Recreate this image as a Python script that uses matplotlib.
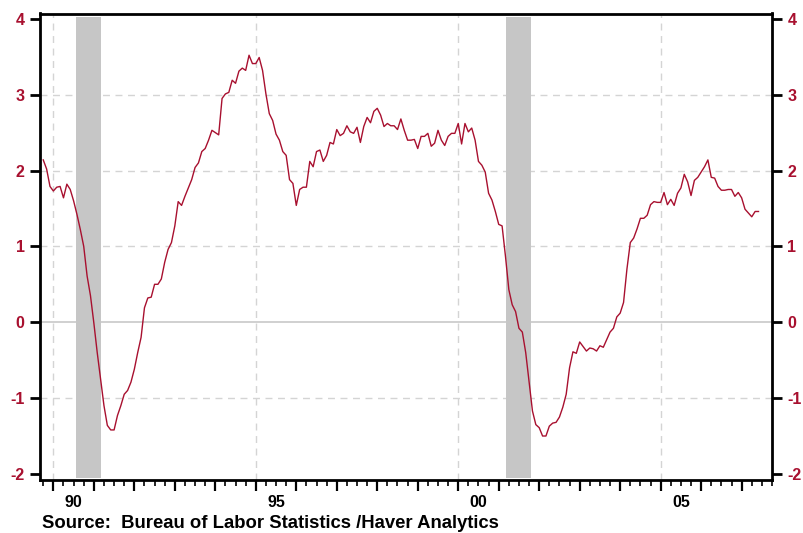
import numpy as np
import matplotlib.pyplot as plt
import matplotlib.transforms as mtransforms

# monthly values, Oct 1989 .. Jun 2007
start_year = 1989
start_month = 10
values = [
    2.14, 2.02, 1.79,
    1.73, 1.78, 1.79, 1.64, 1.82, 1.75, 1.60, 1.42, 1.22, 1.00, 0.61, 0.35,
    -0.01, -0.40, -0.75, -1.10, -1.36, -1.42, -1.42, -1.23, -1.10, -0.95, -0.90, -0.79,
    -0.62, -0.40, -0.20, 0.19, 0.32, 0.33, 0.50, 0.50, 0.57, 0.79, 0.96, 1.05,
    1.27, 1.59, 1.54, 1.66, 1.77, 1.88, 2.04, 2.10, 2.25, 2.29, 2.40, 2.53,
    2.50, 2.47, 2.95, 3.01, 3.03, 3.19, 3.15, 3.31, 3.35, 3.32, 3.52, 3.41,
    3.41, 3.49, 3.32, 3.01, 2.75, 2.66, 2.48, 2.40, 2.25, 2.20, 1.88, 1.83,
    1.54, 1.75, 1.78, 1.78, 2.12, 2.05, 2.25, 2.27, 2.12, 2.20, 2.37, 2.35,
    2.54, 2.46, 2.49, 2.59, 2.51, 2.49, 2.57, 2.37, 2.58, 2.70, 2.63, 2.78,
    2.82, 2.73, 2.58, 2.62, 2.59, 2.59, 2.54, 2.68, 2.53, 2.40, 2.40, 2.41,
    2.29, 2.45, 2.45, 2.49, 2.32, 2.36, 2.53, 2.40, 2.33, 2.45, 2.49, 2.49,
    2.62, 2.35, 2.62, 2.51, 2.56, 2.40, 2.12, 2.07, 1.98, 1.70, 1.61, 1.46,
    1.29, 1.27, 0.87, 0.43, 0.23, 0.14, -0.08, -0.13, -0.40, -0.79, -1.17, -1.35,
    -1.39, -1.50, -1.50, -1.37, -1.33, -1.32, -1.25, -1.12, -0.95, -0.60, -0.39, -0.41,
    -0.26, -0.32, -0.38, -0.34, -0.35, -0.38, -0.31, -0.33, -0.23, -0.13, -0.08, 0.07,
    0.12, 0.26, 0.70, 1.05, 1.11, 1.23, 1.37, 1.37, 1.41, 1.55, 1.59, 1.58,
    1.58, 1.71, 1.55, 1.62, 1.54, 1.70, 1.77, 1.95, 1.85, 1.67, 1.87, 1.91,
    1.98, 2.05, 2.14, 1.91, 1.90, 1.79, 1.74, 1.74, 1.75, 1.75, 1.66, 1.71,
    1.64, 1.49, 1.44, 1.39, 1.46, 1.46,
]
recessions = [(1990.56, 1991.17), (2001.18, 2001.79)]
yticks = [-2, -1, 0, 1, 2, 3, 4]
label_years = [1990, 1995, 2000, 2005]
label_text = ["90", "95", "00", "05"]

red = "#a8102f"
t = start_year + (start_month - 1) / 12 + np.arange(len(values)) / 12

fig = plt.figure(figsize=(8.04, 5.33), dpi=100)
ax = fig.add_axes([40 / 804, 1 - 480 / 533, 732 / 804, 466.5 / 533])

for a, b in recessions:
    ax.axvspan(a, b, ymin=0.005, ymax=0.993, color="#c6c6c6", lw=0, zorder=1)

for y in [-1, 1, 2, 3]:
    ax.axhline(y, color="#d4d4d4", lw=1, ls=(0, (5, 4)), zorder=0)
for yr in label_years:
    ax.axvline(yr, color="#d4d4d4", lw=1, ls=(0, (5, 4)), zorder=0)
ax.axhline(0, color="#c8c8c8", lw=1.2, zorder=0)

ax.plot(t, values, color=red, lw=1.0, zorder=3)

ax.set_xlim(1989.67, 2007.75)
ax.set_ylim(-2.08, 4.07)

ax.set_yticks(yticks)
ax.set_yticklabels([str(v) for v in yticks])
ax.tick_params(axis="y", which="both", left=True, right=True, labelleft=True, labelright=True,
               direction="out", length=7, width=2, labelcolor=red, labelsize=11.5, pad=4)
for tk in ax.yaxis.get_major_ticks():
    for lab in (tk.label1, tk.label2):
        lab.set_fontweight("bold")
        lab.set_family("Liberation Sans")

ax.set_xticks(np.arange(1990, 2008))
ax.set_xticks(np.arange(1989.75, 2007.8, 0.25), minor=True)
ax.set_xticklabels([])
ax.tick_params(axis="x", which="major", direction="out", length=8, width=1.6)
ax.tick_params(axis="x", which="minor", direction="out", length=4, width=1.2)

trans = mtransforms.blended_transform_factory(ax.transData, ax.transAxes)
for yr, txt in zip(label_years, label_text):
    ax.text(yr + 0.5, -0.033, txt, transform=trans, ha="center", va="top",
            fontsize=11.5, fontweight="bold", family="Liberation Sans")

for s in ax.spines.values():
    s.set_linewidth(2)
    s.set_color("black")

fig.text(42 / 804, 1 - 523 / 533, "Source:  Bureau of Labor Statistics /Haver Analytics",
         ha="left", va="center", fontsize=13.3, fontweight="bold", family="Liberation Sans")

fig.savefig("out.png", dpi=100)
